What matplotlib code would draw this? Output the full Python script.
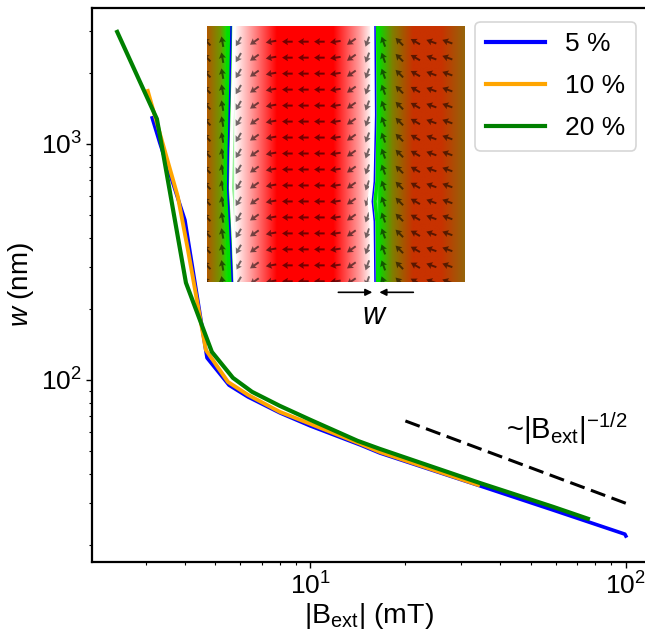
import numpy as np
import matplotlib
matplotlib.use('Agg')
import matplotlib.pyplot as plt
from matplotlib.colors import LinearSegmentedColormap

plt.rcParams['font.family'] = 'Liberation Sans'
plt.rcParams['mathtext.fontset'] = 'custom'
plt.rcParams['mathtext.rm'] = 'Liberation Sans'
plt.rcParams['mathtext.it'] = 'Liberation Sans:italic'
plt.rcParams['mathtext.default'] = 'rm'

# curves
b_5 = [3.15, 3.33, 4.0, 4.7, 5.52, 6.34, 8.0, 10, 14.4, 16.6, 34.4, 58.7, 99.3, 100]
w_5 = [1289, 1010, 476, 124, 95, 84.7, 72.5, 63.8, 53, 49, 35.6, 28.1, 22.2, 21.8]
b_10 = [3.05, 3.8, 4.09, 4.66, 5.48, 6.34, 8.0, 10, 14.4, 16.6, 34]
w_10 = [1677, 596, 355, 134, 98, 86.4, 73.2, 65.1, 53.6, 49.5, 35.9]
b_20 = [2.44, 3.26, 3.41, 4.03, 4.87, 5.68, 6.53, 8.0, 10, 14.1, 16.6, 34.4, 58.7, 75.8]
w_20 = [2983, 1276, 916, 258, 131.4, 102, 89, 77.6, 67.7, 55.2, 51, 36.6, 29, 25.8]
guide_b = [20, 100]
guide_w = [67, 30]

# inset: colour across the domain image, position 0-1 from left edge
stop_pos = [0, 0.05, 0.075, 0.095, 0.105, 0.17, 0.27, 0.49, 0.59, 0.64, 0.655, 0.665, 0.72, 0.80, 0.91, 1]
stop_col = ['#b05a00', '#6f9600', '#10e000', '#00e000', '#ffffff', '#ff9a9a', '#ff0000', '#ff0000',
            '#ff9a9a', '#ffffff', '#ffffff', '#00e000', '#7f7f00', '#c83200', '#c83200', '#96640a']
# arrow grid (zoomed reference pixels) and direction of each column in degrees
arrow_cols = [20, 67, 115, 163, 213, 262, 310, 358, 406, 454, 502, 550, 598, 646, 694, 742]
arrow_rows = [80, 128, 176, 224, 272, 320, 368, 416, 464, 512, 560, 608, 656, 704, 752, 800]
arrow_deg = [135, 100, 240, 215, 190, 180, 180, 180, 188, 215, 250, 110, 135, 150, 160, 160]
wall_y = [32, 200, 400, 520, 650, 800]
wall_left = [93, 90, 85, 83, 90, 97]
wall2_y = [32, 300, 500, 560, 620, 800]
wall_right = [525, 527, 523, 517, 523, 525]

W, H = 645, 631
fig = plt.figure(figsize=(W / 100, H / 100), dpi=100)
ax = fig.add_axes([92 / W, 1 - 561.5 / H, (645 - 92) / W, (561.5 - 7.5) / H])

ax.plot(b_5, w_5, color='blue', lw=2.6, label='5 %')
ax.plot(b_10, w_10, color='orange', lw=2.8, label='10 %')
ax.plot(b_20, w_20, color='green', lw=3, label='20 %')
ax.plot(guide_b, guide_w, color='black', lw=2.2, dashes=(5, 2.2))

ax.set_xscale('log')
ax.set_yscale('log')
ax.set_xlim(2.03, 115)
ax.set_ylim(17.0, 3785)
ax.set_xlabel(r'$|\mathrm{B_{ext}}|$ (mT)', fontsize=20.5, labelpad=1)
ax.set_ylabel(r'$\mathit{w}$ (nm)', fontsize=20, labelpad=3)
ax.tick_params(which='major', labelsize=19, length=4, width=1)
ax.tick_params(which='minor', length=2, width=0.8)
for sp in ax.spines.values():
    sp.set_linewidth(1.6)
ax.spines['right'].set_visible(False)

ax.text(0.968, 0.24, r'~$|\mathrm{B_{ext}}|^{-1/2}$', transform=ax.transAxes, fontsize=21,
        ha='right', va='center')

leg = ax.legend(loc='upper right', bbox_to_anchor=(0.9837, 0.9747), borderaxespad=0, fontsize=19,
                handlelength=2.24, handletextpad=0.76, labelspacing=0.68, borderpad=0.4)
for line in leg.get_lines():
    line.set_linewidth(3)
leg.get_frame().set_linewidth(1.2)

# inset with domain image, in zoomed reference pixel units
inset = fig.add_axes([206.7 / W, 1 - 282 / H, (464 - 206.7) / W, (282 - 25.7) / H])
cmap = LinearSegmentedColormap.from_list('domains', list(zip(stop_pos, stop_col)))
inset.imshow(np.linspace(0, 1, 512).reshape(1, -1), cmap=cmap, aspect='auto',
             extent=[20, 792, 802, 32], interpolation='bilinear')
# domain walls wobble, so the white and green edges follow them
inset.plot(np.add(wall_left, 9), wall_y, color='white', lw=2.5)
inset.plot(np.add(wall_left, -8), wall_y, color='#00e000', lw=2.5)
inset.plot(np.add(wall_right, -9), wall2_y, color='white', lw=2.5)
inset.plot(np.add(wall_right, 8), wall2_y, color='#00e000', lw=2.5)
inset.plot(wall_left, wall_y, color='blue', lw=1.1)
inset.plot(wall_right, wall2_y, color='blue', lw=1.1)

X, Y = np.meshgrid(arrow_cols, arrow_rows)
ang = np.radians(np.tile(arrow_deg, (len(arrow_rows), 1)))
inset.quiver(X, Y, 32 * np.cos(ang), 32 * np.sin(ang), angles='uv', scale_units='xy', scale=1,
             units='xy', width=6, headwidth=3.6, headlength=3, headaxislength=2.6,
             pivot='mid', color='black', alpha=0.55)
inset.set_xlim(20, 792)
inset.set_ylim(802, 32)
inset.axis('off')

inset.annotate('', xy=(517, 833), xytext=(415, 833), annotation_clip=False,
               arrowprops=dict(arrowstyle='-|>', color='black', lw=1.2, shrinkA=0, shrinkB=0))
inset.annotate('', xy=(538, 833), xytext=(640, 833), annotation_clip=False,
               arrowprops=dict(arrowstyle='-|>', color='black', lw=1.2, shrinkA=0, shrinkB=0))
inset.text(525, 905, r'$\mathit{w}$', fontsize=22, ha='center', va='center', clip_on=False)

fig.savefig('out.png', dpi=100)
